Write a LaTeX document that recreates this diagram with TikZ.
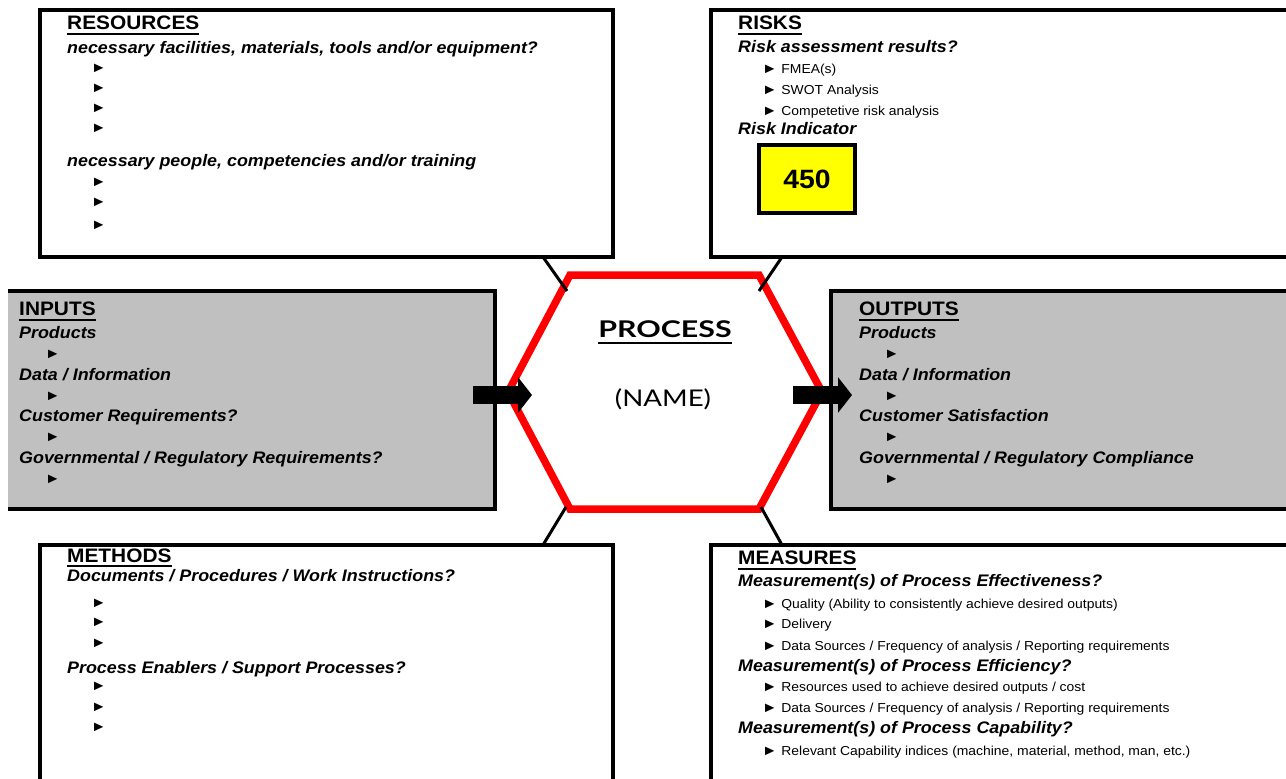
\documentclass[tikz,border=0pt]{standalone}
\usepackage{fontspec}
\setmainfont{Liberation Sans}[FakeStretch=1.07]
\newfontfamily\procbold{Lato}[FakeStretch=1.32]
\newfontfamily\procreg{Lato}[FakeStretch=1.2]
\usetikzlibrary{arrows.meta}

% text sizes used in the panels
\newcommand\ttlfont{\fontsize{19.5}{22}\selectfont\bfseries}
\newcommand\subfont{\fontsize{16.7}{19}\selectfont\bfseries\itshape}
\newcommand\itmfont{\fontsize{13}{15}\selectfont}
% list marker, a little larger than the item text
\newcommand\bul{{\fontsize{14.5}{15}\selectfont ►}}
% heavy underline for headings
\newcommand\ttlul[2][5.5pt]{\setbox0=\hbox{#2}\rlap{\rule[-#1]{\wd0}{2pt}}\box0}

\definecolor{panelgray}{HTML}{C0C0C0}
\definecolor{hexred}{HTML}{FF0000}
\definecolor{flagyellow}{HTML}{FFFF00}

\begin{document}
\begin{tikzpicture}[x=1pt,y=-1pt,
  panel/.style={draw=black, line width=4pt, fill=white},
  ttl/.style={anchor=base west, inner sep=0pt, font=\ttlfont},
  sbt/.style={anchor=base west, inner sep=0pt, font=\subfont},
  itm/.style={anchor=base west, inner sep=0pt, font=\itmfont},
  blt/.style={anchor=west, inner sep=0pt, font=\itmfont},
  spoke/.style={draw=black, line width=3pt},
  flow/.style={draw=black, line width=18pt, -{Triangle[width=35pt,length=14pt]}},
]
\useasboundingbox (0,0) rectangle (1286,779);
\clip (0,0) rectangle (1286,779);

% ---------- panels ----------
\path[panel] (40,10) rectangle (613,257);            % resources
\path[panel] (711,10) rectangle (1300,257);          % risks
\path[panel] (40,545) rectangle (613,800);           % methods
\path[panel] (711,545) rectangle (1300,800);         % measures
% inputs: open on the left side
\fill[panelgray] (8,291) rectangle (495,509);
\draw[line width=4pt, line join=miter] (8,291) -- (495,291) -- (495,509) -- (8,509);
% outputs
\path[panel, fill=panelgray] (831,291) rectangle (1300,509);

% ---------- process hexagon ----------
\coordinate (hTL) at (570,275);
\coordinate (hTR) at (759,275);
\coordinate (hR)  at (822,392);
\coordinate (hBR) at (759,509);
\coordinate (hBL) at (570,509);
\coordinate (hL)  at (508,392);
\draw[hexred, fill=white, line width=7.5pt, line join=miter]
  (hTL) -- (hTR) -- (hR) -- (hBR) -- (hBL) -- (hL) -- cycle;

% spokes from the corner panels to the hexagon
\coordinate (sRes) at (543,257);  \coordinate (sTLin) at (567,291);
\coordinate (sRsk) at (782,257);  \coordinate (sTRin) at (759,291);
\coordinate (sMet) at (543,545);  \coordinate (sBLin) at (566,507);
\coordinate (sMea) at (782,545);  \coordinate (sBRin) at (761,507);
\draw[spoke] (sRes) -- (sTLin);
\draw[spoke] (sRsk) -- (sTRin);
\draw[spoke] (sMet) -- (sBLin);
\draw[spoke] (sMea) -- (sBRin);

% flow arrows
\coordinate (inA) at (473,395);  \coordinate (inB) at (532,395);
\coordinate (outA) at (793,395); \coordinate (outB) at (852,395);
\draw[flow] (inA) -- (inB);
\draw[flow] (outA) -- (outB);

% ---------- process label ----------
\node (proc) [anchor=base, inner sep=0pt,
  font=\procbold\fontsize{23}{26}\selectfont\bfseries] at (665,337) {\ttlul[6.5pt]{PROCESS}};
\node (pname) [anchor=base, inner sep=0pt,
  font=\procreg\fontsize{23}{26}\selectfont] at (663,406) {(NAME)};

% ---------- resources ----------
\node[ttl] (res-t) at (67,29) {\ttlul{RESOURCES}};
\node[sbt] (res-s1) at (67,53) {necessary facilities, materials, tools and/or equipment?};
\foreach \yy [count=\i] in {68,88,108,128} \node[blt] (res-a\i) at (91,\yy) {\bul};
\node[sbt] (res-s2) at (67,166) {necessary people, competencies and/or training};
\foreach \yy [count=\i] in {182,202,225} \node[blt] (res-b\i) at (91,\yy) {\bul};

% ---------- risks ----------
\node[ttl] (rsk-t) at (738,29) {\ttlul{RISKS}};
\node[sbt] (rsk-s1) at (738,52) {Risk assessment results?};
\node[itm] (rsk-a1) at (762,73) {\bul{} FMEA(s)};
\node[itm] (rsk-a2) at (762,94) {\bul{} SWOT Analysis};
\node[itm] (rsk-a3) at (762,115) {\bul{} Competetive risk analysis};
\node[sbt] (rsk-s2) at (738,134) {Risk Indicator};
\node (rsk-v) [draw=black, line width=4pt, fill=flagyellow, inner sep=0pt,
  minimum width=96pt, minimum height=68pt,
  font=\fontsize{26.5}{28}\selectfont\bfseries] at (807,179) {450};

% ---------- inputs ----------
\node[ttl] (inp-t) at (19,315) {\ttlul{INPUTS}};
\node[sbt] (inp-s1) at (19,338) {Products};
\node[blt] (inp-a1) at (45,354) {\bul};
\node[sbt] (inp-s2) at (19,380) {Data / Information};
\node[blt] (inp-a2) at (45,396) {\bul};
\node[sbt] (inp-s3) at (19,421) {Customer Requirements?};
\node[blt] (inp-a3) at (45,437) {\bul};
\node[sbt] (inp-s4) at (19,463) {Governmental / Regulatory Requirements?};
\node[blt] (inp-a4) at (45,479) {\bul};

% ---------- outputs ----------
\node[ttl] (out-t) at (859,315) {\ttlul{OUTPUTS}};
\node[sbt] (out-s1) at (859,338) {Products};
\node[blt] (out-a1) at (884,354) {\bul};
\node[sbt] (out-s2) at (859,380) {Data / Information};
\node[blt] (out-a2) at (884,396) {\bul};
\node[sbt] (out-s3) at (859,421) {Customer Satisfaction};
\node[blt] (out-a3) at (884,437) {\bul};
\node[sbt] (out-s4) at (859,463) {Governmental / Regulatory Compliance};
\node[blt] (out-a4) at (884,479) {\bul};

% ---------- methods ----------
\node[ttl] (met-t) at (67,562) {\ttlul[4.5pt]{METHODS}};
\node[sbt] (met-s1) at (67,581) {Documents / Procedures / Work Instructions?};
\foreach \yy [count=\i] in {603,622,643} \node[blt] (met-a\i) at (91,\yy) {\bul};
\node[sbt] (met-s2) at (67,673) {Process Enablers / Support Processes?};
\foreach \yy [count=\i] in {686,707,727} \node[blt] (met-b\i) at (91,\yy) {\bul};

% ---------- measures ----------
\node[ttl] (mea-t) at (738,564) {\ttlul{MEASURES}};
\node[sbt] (mea-s1) at (738,586) {Measurement(s) of Process Effectiveness?};
\node[itm] (mea-a1) at (762,608) {\bul{} Quality (Ability to consistently achieve desired outputs)};
\node[itm] (mea-a2) at (762,628) {\bul{} Delivery};
\node[itm] (mea-a3) at (762,650) {\bul{} Data Sources / Frequency of analysis / Reporting requirements};
\node[sbt] (mea-s2) at (738,671) {Measurement(s) of Process Efficiency?};
\node[itm] (mea-b1) at (762,691) {\bul{} Resources used to achieve desired outputs / cost};
\node[itm] (mea-b2) at (762,712) {\bul{} Data Sources / Frequency of analysis / Reporting requirements};
\node[sbt] (mea-s3) at (738,733) {Measurement(s) of Process Capability?};
\node[itm] (mea-c1) at (762,755) {\bul{} Relevant Capability indices (machine, material, method, man, etc.)};
\end{tikzpicture}
\end{document}
